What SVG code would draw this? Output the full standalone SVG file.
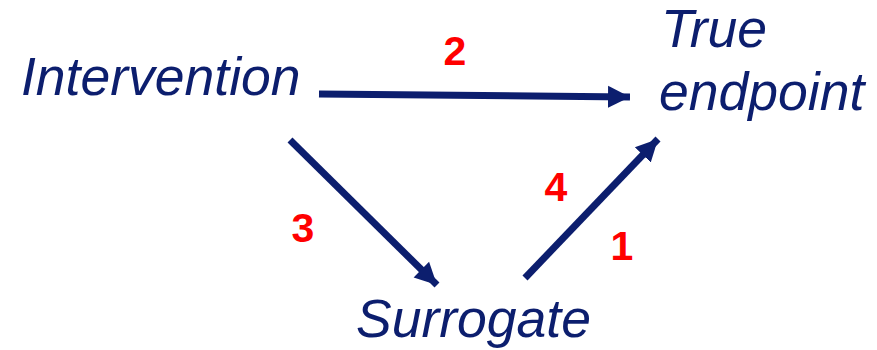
<svg xmlns="http://www.w3.org/2000/svg" width="877" height="350" viewBox="0 0 877 350">
<style>
.lbl{font-family:"Liberation Sans",Arial,sans-serif;font-style:italic;font-size:53.5px;fill:#0c1e6e}
.num{font-family:"Liberation Sans",Arial,sans-serif;font-weight:bold;font-size:41px;fill:#ff0000;text-anchor:middle}
.conn{stroke:#0c1e6e;stroke-width:7;fill:none;marker-end:url(#ah)}
</style>
<defs>
<marker id="ah" markerUnits="userSpaceOnUse" markerWidth="24" markerHeight="24" viewBox="0 0 24 24" refX="22" refY="12" orient="auto">
<path d="M0,1 L22,12 L0,23 Z" fill="#0c1e6e"/>
</marker>
</defs>
<rect width="877" height="350" fill="#ffffff"/>
<g id="connectors">
<line class="conn" x1="319" y1="94" x2="630" y2="97"/>
<line class="conn" x1="290" y1="140" x2="437" y2="285"/>
<line class="conn" x1="525" y1="278" x2="658" y2="139"/>
</g>
<g id="intervention"><text class="lbl" x="21" y="95">Intervention</text></g>
<g id="true-endpoint"><text class="lbl" x="661" y="47">True</text><text class="lbl" x="659" y="110">endpoint</text></g>
<g id="surrogate"><text class="lbl" x="356" y="337">Surrogate</text></g>
<g id="labels">
<text class="num" x="455" y="65">2</text>
<text class="num" x="303" y="242">3</text>
<text class="num" x="556" y="201">4</text>
<text class="num" x="622" y="260">1</text>
</g>
</svg>
